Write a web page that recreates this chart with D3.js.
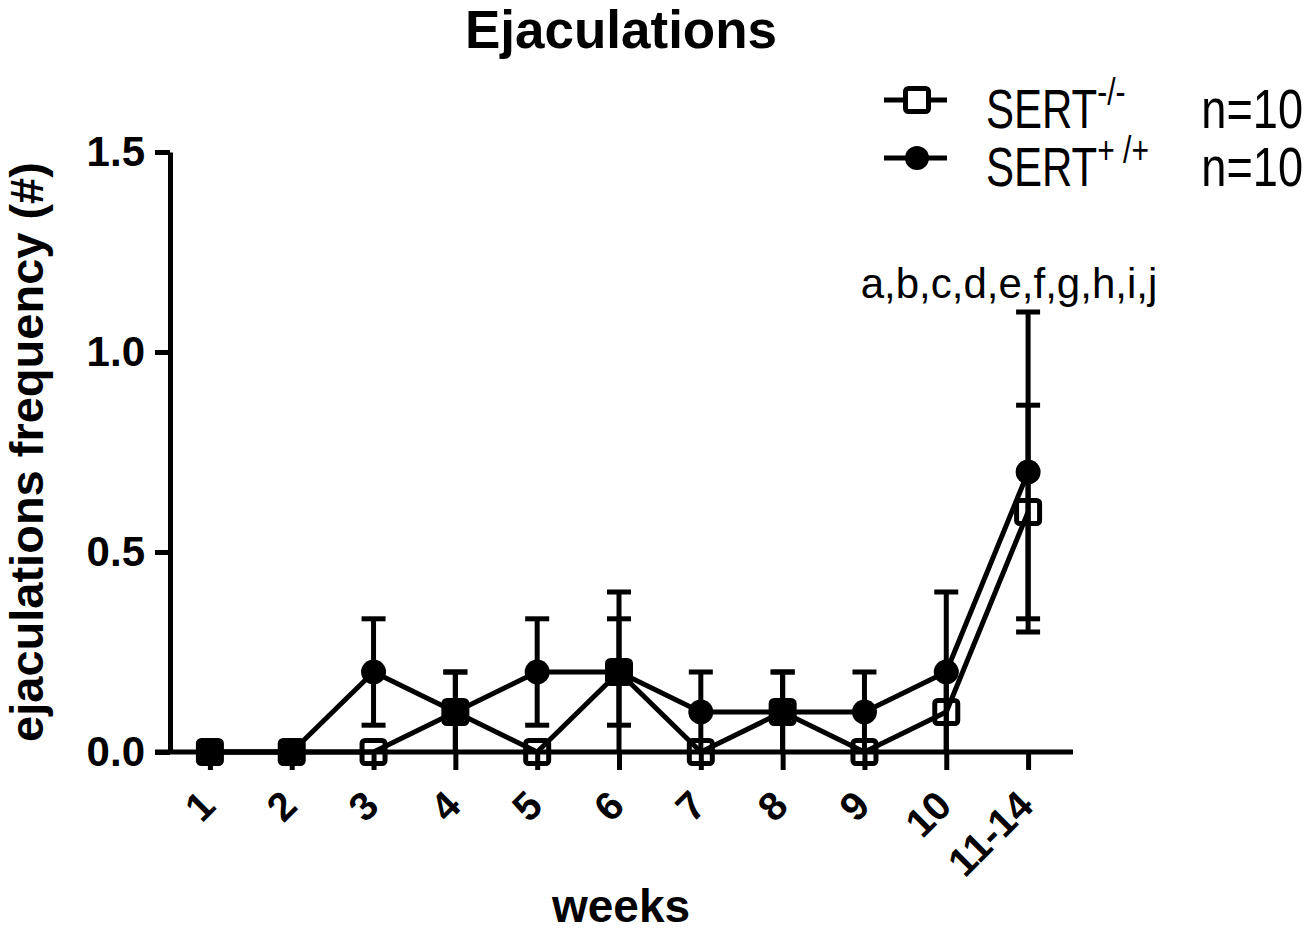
<!DOCTYPE html>
<html>
<head>
<meta charset="utf-8">
<script src="https://cdn.jsdelivr.net/npm/d3@7"></script>
<style>
  body { margin: 0; background: #fff; }
  svg { display: block; font-family: "Liberation Sans", Arial, sans-serif; }
</style>
</head>
<body>
<div id="chart"></div>
<script>
// data
const weeks = ["1", "2", "3", "4", "5", "6", "7", "8", "9", "10", "11-14"];
const koMean = [0, 0, 0, 0.1, 0, 0.2, 0, 0.1, 0, 0.1, 0.6];      // SERT-/-
const koSem  = [0, 0, 0, 0.1, 0, 0.2, 0, 0.1, 0, 0.1, 0.267];
const wtMean = [0, 0, 0.2, 0.1, 0.2, 0.2, 0.1, 0.1, 0.1, 0.2, 0.7]; // SERT+/+
const wtSem  = [0, 0, 0.133, 0.1, 0.133, 0.133, 0.1, 0.1, 0.1, 0.2, 0.4];
const yTicks = [0, 0.5, 1.0, 1.5];
const note = "a,b,c,d,e,f,g,h,i,j";

const width = 1307;
const height = 932;
const stroke = 5;

const svg = d3.select("#chart").append("svg")
  .attr("width", width)
  .attr("height", height)
  .attr("viewBox", [0, 0, width, height]);

const x = d3.scalePoint()
  .domain(weeks)
  .range([169, 1069])
  .padding(0.5);

const y = d3.scaleLinear()
  .domain([0, 1.5])
  .range([752, 152]);

const ko = weeks.map((w, i) => ({ w, m: koMean[i], s: koSem[i] }));
const wt = weeks.map((w, i) => ({ w, m: wtMean[i], s: wtSem[i] }));

// title
svg.append("text")
  .attr("x", 621).attr("y", 48)
  .attr("text-anchor", "middle")
  .attr("font-size", 53).attr("font-weight", "bold")
  .text("Ejaculations");

// y axis
svg.append("g")
  .attr("transform", "translate(170,0)")
  .call(d3.axisLeft(y).tickValues(yTicks).tickFormat(d3.format(".1f"))
    .tickSize(15).tickSizeOuter(0).tickPadding(10))
  .call(g => g.selectAll("path, line").attr("stroke", "#000").attr("stroke-width", stroke))
  .call(g => g.selectAll("text").attr("font-size", 42).attr("font-weight", "bold")
    .attr("font-family", "'Liberation Sans', Arial, sans-serif").attr("fill", "#000"));

// x axis
svg.append("g")
  .attr("transform", `translate(0,${y(0)})`)
  .call(d3.axisBottom(x).tickSize(18).tickSizeOuter(0))
  .call(g => g.select(".domain").remove())
  .call(g => g.append("line")
    .attr("x1", 155).attr("x2", 1073)
    .attr("stroke", "#000"))
  .call(g => g.selectAll("line").attr("stroke", "#000").attr("stroke-width", stroke))
  .call(g => g.selectAll("text")
    .attr("font-size", 40).attr("font-weight", "bold")
    .attr("font-family", "'Liberation Sans', Arial, sans-serif").attr("fill", "#000")
    .attr("text-anchor", "end")
    .attr("x", 0).attr("y", 0).attr("dy", 0)
    .attr("transform", "translate(7,56) rotate(-45)"));

// axis titles
svg.append("text")
  .attr("transform", `translate(43,${(y(0) + y(1.5)) / 2}) rotate(-90)`)
  .attr("text-anchor", "middle")
  .attr("font-size", 47).attr("font-weight", "bold")
  .text("ejaculations frequency (#)");

svg.append("text")
  .attr("x", 621).attr("y", 922)
  .attr("text-anchor", "middle")
  .attr("font-size", 46).attr("font-weight", "bold")
  .text("weeks");

// error bars
function errorBars(data) {
  const g = svg.append("g").attr("stroke", "#000").attr("stroke-width", stroke);
  const withErr = data.filter(d => d.s > 0);
  g.selectAll(".bar").data(withErr).join("line")
    .attr("x1", d => x(d.w)).attr("x2", d => x(d.w))
    .attr("y1", d => y(Math.max(0, d.m - d.s))).attr("y2", d => y(d.m + d.s));
  g.selectAll(".capTop").data(withErr).join("line")
    .attr("x1", d => x(d.w) - 12).attr("x2", d => x(d.w) + 12)
    .attr("y1", d => y(d.m + d.s)).attr("y2", d => y(d.m + d.s));
  g.selectAll(".capBot").data(withErr.filter(d => d.m - d.s > 0.001)).join("line")
    .attr("x1", d => x(d.w) - 12).attr("x2", d => x(d.w) + 12)
    .attr("y1", d => y(d.m - d.s)).attr("y2", d => y(d.m - d.s));
}
errorBars(ko);
errorBars(wt);

// series lines
const line = d3.line().x(d => x(d.w)).y(d => y(d.m));
[ko, wt].forEach(data => {
  svg.append("path")
    .attr("fill", "none").attr("stroke", "#000").attr("stroke-width", stroke)
    .attr("stroke-linejoin", "round")
    .attr("d", line(data));
});

// markers
svg.append("g").selectAll("rect").data(ko).join("rect")
  .attr("x", d => x(d.w) - 11.5).attr("y", d => y(d.m) - 11.5)
  .attr("width", 23).attr("height", 23).attr("rx", 3)
  .attr("fill", "none").attr("stroke", "#000").attr("stroke-width", stroke);

svg.append("g").selectAll("circle").data(wt).join("circle")
  .attr("cx", d => x(d.w)).attr("cy", d => y(d.m)).attr("r", 12.5)
  .attr("fill", "#000");

// significance note
svg.append("text")
  .attr("x", 1009).attr("y", 298)
  .attr("text-anchor", "middle")
  .attr("font-size", 42)
  .text(note);

// legend
const legend = [
  { sup: "-/-", symbol: "square", y: 100 },
  { sup: "+ /+", symbol: "circle", y: 158 }
];
legend.forEach(item => {
  const g = svg.append("g");
  g.append("line")
    .attr("x1", 884).attr("x2", 947).attr("y1", item.y).attr("y2", item.y)
    .attr("stroke", "#000").attr("stroke-width", stroke);
  if (item.symbol === "square") {
    g.append("rect")
      .attr("x", 917 - 11.5).attr("y", item.y - 11.5)
      .attr("width", 23).attr("height", 23).attr("rx", 3)
      .attr("fill", "#fff").attr("stroke", "#000").attr("stroke-width", stroke);
  } else {
    g.append("circle").attr("cx", 917).attr("cy", item.y).attr("r", 12).attr("fill", "#000");
  }
  const t = g.append("text")
    .attr("transform", `translate(986,${item.y + 28}) scale(1,1.3)`)
    .attr("font-size", 42);
  t.append("tspan").text("SERT");
  t.append("tspan").attr("font-size", 30).attr("dy", -18).text(item.sup);
  g.append("text")
    .attr("transform", `translate(1303,${item.y + 28}) scale(1.05,1.3)`)
    .attr("text-anchor", "end")
    .attr("font-size", 43)
    .text("n=10");
});
</script>
</body>
</html>
